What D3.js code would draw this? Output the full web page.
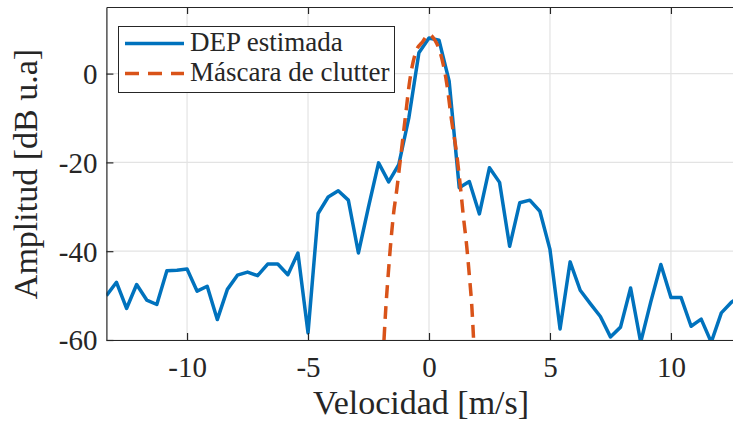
<!DOCTYPE html>
<html>
<head>
<meta charset="utf-8">
<script src="https://cdn.jsdelivr.net/npm/d3@7"></script>
<style>
  body { margin: 0; background: #fff; }
  svg text { font-family: 'Liberation Serif', 'Times New Roman', serif; fill: #262626; }
</style>
</head>
<body>
<svg class="chart"></svg>
<script>
//Data
const dv = 0.41667;
const binIndex = d3.range(-32, 32);
const depValues = [
  -50, -47.0, -52.9, -47.5, -51.0, -52.0, -44.4, -44.3, -44.0, -49.0,
  -47.9, -55.4, -48.6, -45.4, -44.7, -45.5, -42.9, -42.9, -45.3, -40.4,
  -58.4, -31.5, -27.8, -26.4, -28.5, -40.4, -30.0, -20.1, -24.4, -20.5,
  -10.0, 4.7, 8.0, 7.5, -1.7, -25.7, -24.3, -31.6, -21.2, -24.5,
  -38.9, -29.1, -28.5, -31.0, -39.6, -57.5, -42.4, -48.8, -51.8, -54.7,
  -59.3, -57.1, -48.3, -60.5, -51.4, -43.0, -50.4, -50.4, -56.9, -55.3,
  -60.5, -53.9, -51.5, -50.0
];
const maskVel = [-1.86, -1.78, -1.68, -1.58, -1.47, -1.33, -1.20, -0.99, -0.79, -0.51, -0.3, 0,
  0.25, 0.45, 0.73, 0.93, 1.14, 1.31, 1.42, 1.56, 1.67, 1.77, 1.84];
const maskValues = [-60, -52.4, -44.9, -38.1, -31.8, -26.1, -20.1, -10.4, -1.4, 5.4, 6.9, 8.8,
  7.5, 5.0, -2.1, -10.4, -17.9, -26.1, -32.1, -38.9, -45.6, -52.4, -59.5];
const xTicks = [-10, -5, 0, 5, 10];
const yTicks = [-60, -40, -20, 0];
const legendLabels = ['DEP estimada', 'Máscara de clutter'];

const width = 733;
const height = 427;
const margin = { left: 106.4, top: 7, bottom: 87 };
const axisColor = '#262626';
const blue = '#0072BD';
const orange = '#D95319';

const svg = d3.select('svg.chart')
  .attr('width', width)
  .attr('height', height);

//Scales (right edge runs past the picture, as in the reference)
const x = d3.scaleLinear()
  .domain([-32 * dv, 31 * dv])
  .range([margin.left, 741.5]);
const y = d3.scaleLinear()
  .domain([-60, 15])
  .range([height - margin.bottom, margin.top]);

const x0 = x.range()[0], x1 = x.range()[1];
const y0 = y.range()[0], y1 = y.range()[1];

//Grid
svg.append('g')
  .selectAll('line.gx')
  .data(xTicks)
  .join('line')
    .attr('x1', d => x(d)).attr('x2', d => x(d))
    .attr('y1', y0).attr('y2', y1)
    .attr('stroke', '#e3e3e3').attr('stroke-width', 1.2);
svg.append('g')
  .selectAll('line.gy')
  .data(yTicks)
  .join('line')
    .attr('x1', x0).attr('x2', x1)
    .attr('y1', d => y(d)).attr('y2', d => y(d))
    .attr('stroke', '#e3e3e3').attr('stroke-width', 1.2);

//Clip for the data lines
svg.append('clipPath')
  .attr('id', 'plotClip')
  .append('rect')
    .attr('x', x0).attr('y', y1)
    .attr('width', x1 - x0).attr('height', y0 - y1);

const plot = svg.append('g').attr('clip-path', 'url(#plotClip)');

//DEP line
const depData = binIndex.map((k, i) => ({ v: k * dv, a: depValues[i] }));
plot.append('path')
  .datum(depData)
  .attr('fill', 'none')
  .attr('stroke', blue)
  .attr('stroke-width', 3.5)
  .attr('stroke-linejoin', 'round')
  .attr('d', d3.line().x(d => x(d.v)).y(d => y(d.a)));

//Clutter mask
const maskData = maskVel.map((v, i) => ({ v: v, a: maskValues[i] }));
plot.append('path')
  .datum(maskData)
  .attr('fill', 'none')
  .attr('stroke', orange)
  .attr('stroke-width', 3.5)
  .attr('stroke-dasharray', '13,8')
  .attr('d', d3.line().curve(d3.curveMonotoneX).x(d => x(d.v)).y(d => y(d.a)));

//Axes (ticks inward, box top and left)
const tickText = d => String(d); //plain hyphen, like the reference
const xAxisBottom = d3.axisBottom(x).tickValues(xTicks).tickSizeInner(-7).tickSizeOuter(0).tickFormat(tickText);
const xAxisTop = d3.axisTop(x).tickValues(xTicks).tickSizeInner(-7).tickSizeOuter(0).tickFormat('');
const yAxisLeft = d3.axisLeft(y).tickValues(yTicks).tickSizeInner(-7).tickSizeOuter(0).tickFormat(tickText);

function styleAxis(g) {
  g.select('.domain').attr('stroke', axisColor).attr('stroke-width', 1.2);
  g.selectAll('.tick line').attr('stroke', axisColor).attr('stroke-width', 1.2);
  g.selectAll('.tick text')
    .attr('fill', axisColor)
    .style('font-family', "'Liberation Serif', serif")
    .style('font-size', '29px');
}

svg.append('g')
  .attr('transform', `translate(0,${y0})`)
  .call(xAxisBottom)
  .call(styleAxis)
  .call(g => g.selectAll('.tick text').attr('y', 0).attr('dy', 37));

svg.append('g')
  .attr('transform', `translate(0,${y1})`)
  .call(xAxisTop)
  .call(styleAxis);

svg.append('g')
  .attr('transform', `translate(${x0},0)`)
  .call(yAxisLeft)
  .call(styleAxis)
  .call(g => g.selectAll('.tick text').attr('x', -9).attr('dy', '0.34em'));

//Axis labels
svg.append('text')
  .attr('x', 421)
  .attr('y', 414)
  .attr('text-anchor', 'middle')
  .style('font-size', '34px')
  .text('Velocidad [m/s]');

svg.append('text')
  .attr('transform', 'translate(37,174) rotate(-90)')
  .attr('text-anchor', 'middle')
  .style('font-size', '34px')
  .text('Amplitud [dB u.a]');

//Legend
const legend = svg.append('g');
legend.append('rect')
  .attr('x', 118.5).attr('y', 26.5)
  .attr('width', 276).attr('height', 66)
  .attr('fill', '#fff')
  .attr('stroke', axisColor)
  .attr('stroke-width', 1);

legend.selectAll('line')
  .data(legendLabels)
  .join('line')
    .attr('x1', 125).attr('x2', 184)
    .attr('y1', (d, i) => 43.5 + i * 30).attr('y2', (d, i) => 43.5 + i * 30)
    .attr('stroke', (d, i) => i === 0 ? blue : orange)
    .attr('stroke-width', 3.5)
    .attr('stroke-dasharray', (d, i) => i === 0 ? null : '14,9');

legend.selectAll('text')
  .data(legendLabels)
  .join('text')
    .attr('x', 190)
    .attr('y', (d, i) => 51 + i * 29.5)
    .style('font-size', '27px')
    .text(d => d);
</script>
</body>
</html>
